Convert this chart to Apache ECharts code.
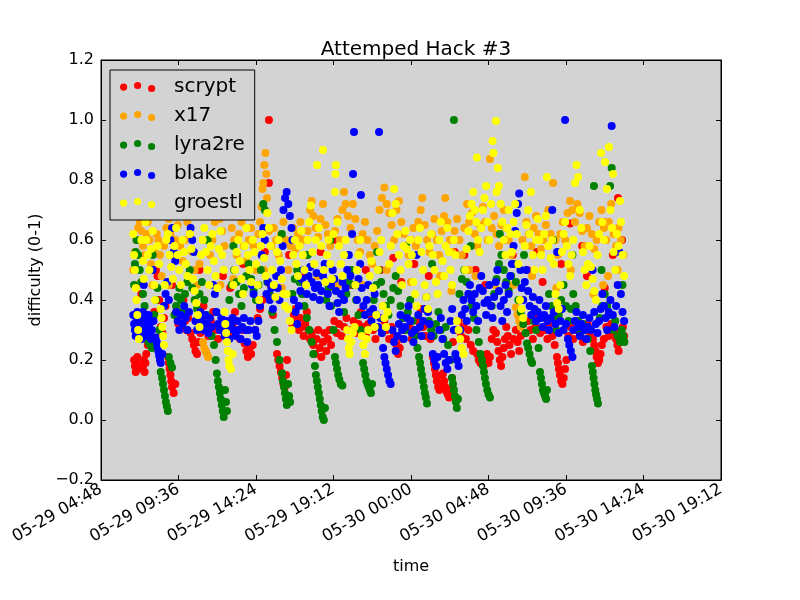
<!DOCTYPE html>
<html>
<head>
<meta charset="utf-8">
<title>Attemped Hack #3</title>
<script src="https://cdn.jsdelivr.net/npm/echarts@6/dist/echarts.min.js"></script>
<style>
  html, body { margin: 0; padding: 0; background: #fff; }
  #chart { width: 800px; height: 600px; }
</style>
</head>
<body>
<div id="chart"></div>
<script>
// Points are [hours since 05-29 00:00, difficulty]
const scrypt = [
  [6.85,0.2],[6.9,0.18],[6.95,0.16],[7.0,0.19],[7.05,0.21],[7.1,0.17],[7.4,0.18],[7.45,0.2],[7.5,0.16],[7.55,0.19],[7.6,0.22],[7.7,0.25],[7.8,0.3],[7.9,0.27],
  [8.0,0.33],[8.1,0.36],[8.2,0.5],[8.3,0.48],[8.4,0.4],[8.5,0.31],[8.6,0.29],[8.7,0.34],[8.8,0.38],
  [8.95,0.21],[9.0,0.19],[9.05,0.17],[9.1,0.15],[9.15,0.13],[9.2,0.11],[9.3,0.09],[9.4,0.12],
  [9.5,0.35],[9.6,0.32],[9.7,0.31],[9.8,0.36],[9.9,0.4],[10.0,0.33],[10.1,0.3],[10.2,0.34],
  [10.35,0.29],[10.45,0.27],[10.55,0.25],[10.65,0.23],[10.75,0.22],[10.85,0.26],[10.95,0.29],
  [11.05,0.33],[11.15,0.38],[11.3,0.31],[11.45,0.28],[11.6,0.33],[11.75,0.36],[11.9,0.3],[12.05,0.27],[12.2,0.32],[12.35,0.48],[12.5,0.3],
  [12.65,0.33],[12.8,0.29],[12.95,0.32],[13.1,0.36],[13.25,0.3],[13.4,0.27],[13.55,0.3],[13.7,0.255],[13.8,0.23],[13.9,0.21],[14.0,0.24],[14.1,0.22],[14.2,0.25],[14.35,0.3],[14.5,0.34],[14.65,0.37],
  [14.8,0.4],[14.95,0.56],[15.2,1.0],[15.2,0.79],[15.3,0.45],[15.45,0.35],
  [15.7,0.22],[15.78,0.2],[15.86,0.18],[15.94,0.16],[16.02,0.14],[16.1,0.12],[16.18,0.11],[16.26,0.15],[16.32,0.2],
  [16.45,0.55],[16.65,0.32],[16.75,0.35],[16.85,0.37],[16.95,0.33],[17.05,0.3],[17.15,0.34],[17.25,0.31],[17.35,0.28],[17.45,0.32],[17.55,0.36],[17.65,0.3],[17.75,0.27],[17.85,0.29],
  [17.95,0.25],[18.05,0.22],[18.15,0.27],[18.25,0.3],[18.35,0.24],[18.45,0.21],[18.55,0.26],[18.65,0.29],[18.75,0.23],[18.85,0.27],[18.95,0.3],[19.05,0.25],
  [19.2,0.6],[19.25,0.33],[19.4,0.29],[19.55,0.32],[19.7,0.28],[19.85,0.31],[20.0,0.34],[20.15,0.3],[20.3,0.45],[20.45,0.33],[20.6,0.29],[20.75,0.32],[20.9,0.36],
  [21.05,0.31],[21.2,0.28],[21.35,0.32],[21.5,0.35],[21.65,0.3],[21.8,0.27],[21.95,0.31],[22.1,0.5],[22.2,0.29],
  [22.35,0.33],[22.5,0.3],[22.65,0.27],[22.8,0.31],[22.95,0.28],[23.1,0.25],[23.2,0.22],[23.3,0.24],[23.45,0.27],[23.6,0.3],[23.75,0.34],[23.9,0.31],[24.05,0.27],[24.2,0.52],
  [24.3,0.3],[24.45,0.33],[24.6,0.37],[24.75,0.31],[24.9,0.28],[25.05,0.32],[25.2,0.27],
  [25.36,0.21],[25.42,0.19],[25.48,0.17],[25.54,0.15],[25.6,0.13],[25.68,0.11],[25.76,0.1],[25.84,0.12],[25.92,0.15],
  [25.98,0.155],[26.05,0.13],[26.12,0.11],[26.2,0.095],[26.28,0.085],[26.36,0.075],[26.45,0.1],[26.54,0.14],
  [26.6,0.26],[26.7,0.56],[26.8,0.3],[26.95,0.33],[27.1,0.28],[27.25,0.31],[27.4,0.27],[27.55,0.3],[27.7,0.25],[27.85,0.23],
  [28.0,0.5],[28.1,0.22],[28.2,0.2],[28.3,0.19],[28.4,0.21],[28.5,0.18],[28.6,0.2],[28.7,0.22],[28.8,0.19],[28.89,0.21],
  [29.0,0.27],[29.1,0.3],[29.26,0.29],[29.34,0.26],[29.42,0.23],[29.5,0.2],[29.58,0.18],[29.66,0.21],[29.74,0.24],[29.82,0.27],
  [29.9,0.31],[30.0,0.28],[30.1,0.25],[30.2,0.22],[30.3,0.55],[30.35,0.27],[30.5,0.3],[30.6,0.26],[30.7,0.23],[30.8,0.28],
  [30.95,0.32],[31.1,0.29],[31.25,0.33],[31.4,0.3],[31.55,0.27],[31.7,0.31],[31.85,0.34],[32.0,0.29],[32.15,0.46],[32.3,0.3],[32.45,0.27],[32.6,0.32],[32.75,0.28],[32.9,0.25],
  [33.04,0.21],[33.1,0.19],[33.16,0.17],[33.22,0.15],[33.3,0.13],[33.38,0.12],[33.46,0.14],[33.54,0.17],[33.62,0.2],
  [33.75,0.28],[33.85,0.655],[33.9,0.31],[34.05,0.27],[34.2,0.3],[34.35,0.33],[34.5,0.29],[34.6,0.58],[34.65,0.26],[34.8,0.3],[34.95,0.32],[35.1,0.28],
  [35.27,0.27],[35.35,0.25],[35.43,0.23],[35.5,0.21],[35.58,0.19],[35.66,0.2],[35.74,0.22],[35.82,0.25],[35.9,0.66],[35.95,0.27],
  [36.1,0.31],[36.25,0.28],[36.4,0.32],[36.55,0.29],[36.63,0.3],[36.7,0.27],[36.78,0.25],[36.82,0.74],[36.86,0.23],[36.95,0.26],[37.02,0.29],[37.07,0.6],[37.12,0.31],[37.2,0.28],
  // scattered higher values inside the main band
  [7.3,0.42],[9.2,0.45],[10.9,0.5],[12.8,0.44],[13.6,0.52],[17.2,0.48],[18.4,0.56],[19.9,0.42],[21.2,0.5],[22.9,0.54],[23.4,0.46],
  [25.1,0.48],[27.3,0.55],[28.6,0.45],[29.8,0.6],[31.2,0.5],[31.8,0.56],[33.3,0.52],[34.9,0.48],[36.0,0.44],[36.5,0.55]
];

const x17 = [
  [6.8,0.5],[6.9,0.56],[7.0,0.6],[7.1,0.64],[7.2,0.66],[7.3,0.63],[7.4,0.58],[7.5,0.55],[7.6,0.62],[7.7,0.66],[7.8,0.6],[7.9,0.52],[8.0,0.45],[8.1,0.57],
  [8.25,0.62],[8.35,0.6],[8.45,0.55],[8.55,0.48],[8.7,0.58],[8.85,0.64],[9.0,0.67],[9.0,0.45],[9.1,0.62],[9.25,0.55],[9.4,0.6],[9.55,0.65],
  [9.7,0.58],[9.85,0.53],[10.0,0.6],[10.15,0.66],[10.3,0.62],[10.45,0.56],[10.6,0.5],[10.75,0.45],[10.9,0.52],
  [11.05,0.32],[11.12,0.26],[11.2,0.24],[11.28,0.23],[11.36,0.22],[11.43,0.21],
  [11.55,0.55],[11.7,0.6],[11.85,0.66],[12.0,0.7],[12.15,0.67],[12.3,0.63],[12.45,0.58],[12.6,0.68],[12.75,0.7],[12.9,0.64],[13.0,0.47],[13.05,0.6],[13.2,0.55],
  [13.35,0.62],[13.5,0.66],[13.65,0.58],[13.8,0.53],[13.95,0.6],[14.1,0.64],[14.25,0.58],[14.4,0.5],[14.55,0.62],[14.65,0.66],
  [14.75,0.71],[14.8,0.77],[14.85,0.79],[14.92,0.85],[14.98,0.89],[15.04,0.82],[15.08,0.74],
  [15.2,0.63],[15.35,0.58],[15.5,0.64],[15.65,0.6],[15.8,0.55],[15.95,0.62],[16.0,0.44],[16.1,0.66],[16.25,0.6],[16.4,0.5],[16.55,0.58],[16.7,0.64],[16.85,0.57],[17.0,0.62],
  [17.15,0.66],[17.3,0.6],[17.45,0.55],[17.6,0.63],[17.75,0.7],[17.85,0.73],[17.95,0.68],[18.1,0.64],[18.2,0.48],[18.25,0.61],[18.4,0.67],[18.55,0.72],[18.7,0.65],[18.85,0.62],
  [19.0,0.58],[19.15,0.5],[19.3,0.63],[19.45,0.67],[19.6,0.6],[19.75,0.7],[19.85,0.76],[19.95,0.72],
  [20.1,0.68],[20.25,0.64],[20.4,0.72],[20.55,0.67],[20.7,0.6],[20.85,0.56],[21.0,0.62],[21.0,0.45],[21.15,0.66],[21.3,0.6],[21.45,0.55],[21.6,0.52],[21.75,0.58],[21.9,0.63],
  [22.05,0.7],[22.2,0.74],[22.35,0.775],[22.5,0.72],[22.65,0.69],[22.8,0.65],[22.95,0.6],[23.1,0.7],[23.25,0.73],[23.4,0.66],[23.55,0.62],[23.7,0.58],
  [23.85,0.55],[24.0,0.6],[24.0,0.46],[24.15,0.64],[24.3,0.58],[24.45,0.66],[24.6,0.7],[24.7,0.74],[24.85,0.65],[25.0,0.6],[25.15,0.56],[25.3,0.62],[25.45,0.67],[25.6,0.6],[25.75,0.55],
  [25.9,0.63],[26.05,0.68],[26.12,0.74],[26.25,0.66],[26.4,0.6],[26.5,0.43],[26.55,0.56],[26.7,0.63],[26.85,0.67],[27.0,0.6],[27.15,0.55],[27.3,0.64],[27.47,0.72],[27.6,0.66],
  [27.78,0.69],[27.95,0.62],[28.0,0.48],[28.1,0.58],[28.25,0.65],
  [28.46,0.71],[28.6,0.66],[28.75,0.6],[28.89,0.87],[29.0,0.64],[29.15,0.68],[29.3,0.62],[29.45,0.58],[29.6,0.65],[29.75,0.7],[29.9,0.64],[30.05,0.6],[30.2,0.55],[30.35,0.45],
  [30.5,0.375],[30.6,0.35],[30.7,0.33],[30.8,0.31],
  [30.9,0.6],[31.05,0.81],[31.15,0.66],[31.3,0.62],[31.45,0.58],[31.6,0.64],[31.75,0.68],[31.9,0.62],[32.05,0.57],[32.2,0.6],[32.35,0.65],[32.5,0.7],[32.65,0.62],[32.8,0.79],
  [32.95,0.6],[33.0,0.44],[33.1,0.55],[33.25,0.62],[33.4,0.66],
  [33.55,0.6],[33.7,0.69],[33.85,0.73],[34.0,0.7],[34.15,0.66],[34.3,0.72],[34.45,0.69],[34.6,0.63],[34.75,0.58],[34.9,0.64],[35.05,0.68],[35.2,0.62],[35.3,0.42],[35.35,0.57],
  [35.5,0.6],[35.65,0.66],[35.8,0.7],[35.95,0.64],[36.1,0.6],[36.2,0.48],[36.25,0.66],[36.4,0.72],[36.55,0.62],[36.7,0.58],[36.85,0.64],[37.0,0.6],[37.15,0.55],
  // lower orange points mixed into the band
  [7.0,0.45],[10.0,0.42],[12.2,0.45],[14.9,0.5],[17.4,0.42],[19.5,0.45],[22.5,0.5],[25.8,0.48],[27.6,0.5],[29.2,0.45],[31.5,0.48],[33.9,0.5],[35.9,0.45],[36.8,0.5]
];

const lyra2re = [
  [6.85,0.45],[6.9,0.52],[6.95,0.56],[7.0,0.6],[7.1,0.55],[7.2,0.5],[7.3,0.46],[7.4,0.42],[7.5,0.38],[7.55,0.29],[7.65,0.27],[7.75,0.26],[7.85,0.25],[7.95,0.24],[8.1,0.35],[8.2,0.4],[8.3,0.44],[8.4,0.3],
  [8.5,0.16],[8.58,0.14],[8.64,0.12],[8.7,0.1],[8.76,0.08],[8.82,0.06],[8.88,0.045],[8.94,0.03],[9.0,0.21],[9.1,0.19],[9.2,0.175],
  [9.35,0.35],[9.45,0.38],[9.55,0.41],[9.65,0.44],[9.75,0.4],[9.85,0.36],[10.0,0.42],[10.15,0.46],[10.3,0.5],[10.45,0.44],[10.6,0.4],[10.75,0.37],[10.9,0.42],[11.05,0.46],
  [11.2,0.4],[11.35,0.35],[11.5,0.31],[11.65,0.28],[11.8,0.25],[11.9,0.2],
  [11.98,0.155],[12.04,0.13],[12.1,0.11],[12.16,0.09],[12.22,0.07],[12.28,0.05],[12.34,0.03],[12.4,0.01],[12.48,0.1],[12.54,0.06],[12.6,0.03],
  [12.75,0.4],[12.9,0.45],[13.05,0.5],[13.2,0.46],[13.35,0.42],[13.5,0.38],[13.65,0.44],[13.8,0.48],[13.95,0.52],[14.1,0.47],[14.25,0.43],[14.4,0.4],[14.55,0.45],[14.7,0.5],
  [14.85,0.72],[14.95,0.7],[15.1,0.46],[15.25,0.42],[15.4,0.36],[15.55,0.3],[15.7,0.26],[15.85,0.2],
  [16.01,0.155],[16.07,0.13],[16.13,0.11],[16.19,0.09],[16.25,0.07],[16.31,0.05],[16.39,0.12],[16.45,0.08],[16.51,0.06],
  [16.65,0.42],[16.8,0.47],[16.95,0.5],[17.1,0.46],[17.25,0.42],[17.4,0.38],[17.55,0.34],[17.7,0.3],[17.85,0.26],[17.95,0.22],
  [18.05,0.18],[18.11,0.15],[18.17,0.13],[18.23,0.11],[18.29,0.09],[18.35,0.07],[18.41,0.05],[18.47,0.03],[18.53,0.01],[18.6,0.0],[18.67,0.04],
  [18.75,0.4],[18.9,0.44],[19.05,0.38],[19.2,0.3],
  [19.29,0.21],[19.35,0.19],[19.42,0.17],[19.49,0.15],[19.56,0.135],[19.65,0.12],[19.75,0.115],
  [19.85,0.36],[20.0,0.42],[20.15,0.46],[20.3,0.5],[20.45,0.45],[20.6,0.4],[20.75,0.35],[20.9,0.3],
  [21.03,0.19],[21.1,0.17],[21.17,0.15],[21.24,0.13],[21.31,0.12],[21.38,0.11],[21.45,0.1],[21.52,0.09],[21.59,0.12],
  [21.7,0.4],[21.85,0.45],[22.0,0.5],[22.15,0.46],[22.3,0.42],[22.45,0.38],[22.6,0.35],[22.75,0.4],[22.9,0.44],[23.05,0.48],[23.2,0.43],[23.35,0.38],[23.5,0.34],[23.65,0.3],
  [23.8,0.36],[23.95,0.4],[24.1,0.33],[24.25,0.28],[24.4,0.24],[24.5,0.21],
  [24.56,0.19],[24.62,0.17],[24.68,0.15],[24.74,0.13],[24.8,0.11],[24.86,0.09],[24.92,0.075],[24.99,0.055],
  [25.1,0.33],[25.25,0.3],[25.4,0.28],[25.55,0.32],[25.7,0.36],[25.85,0.3],[26.0,0.27],[26.15,0.31],[26.3,0.25],[26.45,0.2],
  [26.54,0.14],[26.6,0.12],[26.66,1.0],[26.66,0.1],[26.72,0.08],[26.78,0.06],[26.84,0.04],[26.91,0.07],
  [27.0,0.42],[27.15,0.47],[27.3,0.5],[27.45,0.46],[27.6,0.42],[27.75,0.38],[27.9,0.34],[28.05,0.3],[28.2,0.26],[28.3,0.22],
  [28.4,0.2],[28.46,0.18],[28.52,0.16],[28.58,0.14],[28.64,0.12],[28.72,0.1],[28.8,0.085],[28.89,0.075],
  [29.0,0.38],[29.15,0.42],[29.3,0.47],[29.45,0.52],[29.6,0.55],[29.75,0.5],[29.9,0.46],[30.05,0.43],[30.2,0.48],[30.35,0.52],[30.5,0.46],[30.65,0.4],[30.8,0.36],[30.95,0.32],[31.1,0.29],
  [31.18,0.255],[31.26,0.24],[31.34,0.22],[31.42,0.2],[31.5,0.19],[31.6,0.33],[31.75,0.3],[31.9,0.24],
  [31.99,0.16],[32.05,0.14],[32.11,0.12],[32.17,0.1],[32.23,0.09],[32.3,0.08],[32.37,0.07],[32.42,0.1],
  [32.55,0.42],[32.7,0.38],[32.85,0.34],[33.0,0.3],[33.15,0.35],[33.3,0.4],[33.45,0.45],[33.6,0.38],[33.75,0.33],[33.9,0.37],[34.05,0.42],[34.2,0.38],[34.35,0.33],[34.5,0.29],
  [34.65,0.32],[34.8,0.3],[34.95,0.27],[35.1,0.23],
  [35.21,0.18],[35.26,0.16],[35.31,0.14],[35.33,0.78],[35.36,0.12],[35.41,0.1],[35.46,0.085],[35.52,0.07],[35.58,0.055],
  [35.7,0.34],[35.85,0.38],[36.0,0.42],[36.15,0.38],[36.3,0.35],[36.33,0.78],[36.43,0.84],[36.5,0.3],[36.65,0.33],[36.8,0.28],[36.95,0.26],[37.05,0.3],[37.15,0.28],[37.22,0.26],
  // scattered higher values inside the main band
  [8.0,0.55],[11.4,0.6],[13.0,0.58],[16.0,0.62],[17.6,0.55],[19.0,0.6],[21.9,0.56],[23.7,0.58],[25.3,0.52],[27.7,0.58],[29.5,0.62],[31.0,0.55],[32.8,0.6],[34.0,0.55],[35.8,0.5],[37.1,0.45]
];

const blake = [
  [6.8,0.35],[6.85,0.32],[6.9,0.3],[6.95,0.28],[7.0,0.33],[7.05,0.36],[7.1,0.31],[7.15,0.29],[7.2,0.34],[7.25,0.3],[7.3,0.27],[7.35,0.32],[7.4,0.36],[7.45,0.45],
  [7.5,0.34],[7.55,0.31],[7.6,0.28],[7.65,0.33],[7.7,0.3],[7.75,0.35],[7.8,0.32],[7.85,0.29],[7.9,0.27],[7.95,0.3],[8.0,0.5],[8.05,0.33],
  [8.2,0.275],[8.25,0.26],[8.3,0.245],[8.35,0.23],[8.4,0.215],[8.45,0.2],[8.5,0.19],[8.6,0.22],[8.7,0.38],
  [8.8,0.42],[8.9,0.46],[9.0,0.4],[9.1,0.6],[9.2,0.64],[9.3,0.56],[9.4,0.53],[9.45,0.36],
  [9.55,0.33],[9.65,0.3],[9.75,0.35],[9.85,0.32],[9.95,0.38],[10.05,0.34],[10.15,0.3],
  [10.25,0.36],[10.35,0.64],[10.45,0.6],[10.55,0.56],[10.65,0.33],[10.75,0.3],[10.85,0.34],[10.95,0.36],
  [11.05,0.33],[11.15,0.3],[11.25,0.35],[11.35,0.32],[11.45,0.29],[11.55,0.34],[11.65,0.31],[11.75,0.45],
  [11.85,0.42],[11.95,0.36],[12.05,0.32],[12.15,0.3],[12.25,0.34],[12.35,0.31],[12.45,0.28],[12.55,0.33],
  [12.65,0.3],[12.75,0.27],[12.85,0.32],[12.95,0.34],[13.05,0.3],[13.15,0.28],[13.25,0.33],[13.35,0.3],
  [13.45,0.27],[13.55,0.31],[13.65,0.34],[13.75,0.3],[13.85,0.26],[13.95,0.3],[14.05,0.33],[14.15,0.45],
  [14.25,0.42],[14.35,0.3],[14.45,0.28],[14.55,0.33],[14.65,0.38],[14.75,0.55],[14.85,0.64],[14.95,0.6],
  [15.05,0.42],[15.15,0.46],[15.25,0.4],[15.35,0.44],[15.45,0.37],[15.55,0.41],[15.65,0.48],[15.75,0.44],
  [15.85,0.4],[15.95,0.5],[16.05,0.58],[16.1,0.7],[16.2,0.74],[16.3,0.76],[16.4,0.72],[16.5,0.68],[16.6,0.64],[16.65,0.6],
  [16.75,0.4],[16.85,0.36],[16.95,0.32],[17.05,0.38],[17.15,0.43],[17.25,0.47],[17.35,0.5],[17.45,0.45],
  [17.55,0.42],[17.65,0.48],[17.75,0.51],[17.85,0.46],[17.95,0.41],[18.05,0.44],[18.15,0.49],[18.25,0.45],
  [18.35,0.4],[18.45,0.43],[18.55,0.48],[18.65,0.52],[18.75,0.46],[18.85,0.42],[18.95,0.38],[19.05,0.45],
  [19.15,0.5],[19.25,0.47],[19.35,0.43],[19.45,0.39],[19.55,0.36],[19.65,0.42],[19.75,0.46],[19.85,0.4],
  [19.95,0.44],[20.05,0.5],[20.15,0.55],[20.25,0.48],[20.35,0.62],[20.41,0.82],[20.47,0.96],[20.55,0.45],[20.65,0.4],
  [20.75,0.47],[20.85,0.52],[20.9,0.75],[20.95,0.44],[21.05,0.38],[21.15,0.35],[21.25,0.4],[21.35,0.45],[21.45,0.36],
  [21.55,0.33],[21.65,0.37],[21.75,0.42],[21.85,0.35],[21.95,0.31],[22.02,0.96],[22.1,0.34],[22.2,0.29],
  [22.27,0.24],[22.35,0.21],[22.42,0.19],[22.5,0.17],[22.58,0.15],[22.66,0.13],[22.74,0.12],
  [22.85,0.3],[22.95,0.26],[23.05,0.23],[23.15,0.28],[23.25,0.32],[23.35,0.35],[23.45,0.3],[23.55,0.27],
  [23.65,0.31],[23.75,0.34],[23.85,0.38],[23.95,0.33],[24.05,0.29],[24.15,0.26],[24.25,0.3],[24.35,0.55],
  [24.45,0.35],[24.55,0.31],[24.65,0.28],[24.75,0.33],[24.85,0.37],[24.95,0.41],[25.05,0.36],[25.15,0.32],
  [25.25,0.28],[25.35,0.22],[25.45,0.2],[25.55,0.18],[25.65,0.21],[25.75,0.3],[25.85,0.34],[25.95,0.27],
  [26.05,0.22],[26.15,0.19],[26.25,0.17],[26.35,0.2],[26.45,0.33],[26.55,0.37],[26.65,0.3],[26.75,0.22],
  [26.85,0.2],[26.95,0.18],[27.05,0.3],[27.15,0.35],[27.25,0.4],[27.35,0.37],[27.45,0.33],[27.55,0.42],
  [27.65,0.45],[27.75,0.4],[27.85,0.36],[27.95,0.42],[28.05,0.38],[28.15,0.33],[28.25,0.44],[28.35,0.48],
  [28.45,0.43],[28.55,0.39],[28.65,0.35],[28.75,0.4],[28.85,0.45],[28.95,0.38],[29.05,0.34],[29.15,0.41],
  [29.25,0.46],[29.35,0.5],[29.45,0.43],[29.55,0.38],[29.65,0.33],[29.75,0.4],[29.85,0.45],[29.95,0.36],
  [30.05,0.42],[30.15,0.48],[30.25,0.52],[30.35,0.58],[30.45,0.63],[30.55,0.69],[30.63,0.72],[30.7,0.755],[30.78,0.5],
  [30.85,0.44],[30.95,0.4],[31.05,0.46],[31.15,0.5],[31.25,0.43],[31.35,0.38],[31.45,0.35],[31.55,0.41],
  [31.65,0.37],[31.75,0.33],[31.85,0.36],[31.95,0.4],[32.05,0.34],[32.15,0.31],[32.25,0.35],[32.35,0.38],
  [32.45,0.33],[32.55,0.3],[32.65,0.34],[32.75,0.7],[32.85,0.36],[32.95,0.32],[33.05,0.56],[33.15,0.29],
  [33.25,0.33],[33.35,0.37],[33.45,0.3],[33.54,1.0],[33.6,0.32],[33.72,0.27],[33.8,0.25],[33.9,0.23],[34.0,0.21],
  [34.05,0.3],[34.15,0.33],[34.25,0.36],[34.35,0.31],[34.45,0.28],[34.55,0.32],[34.65,0.35],[34.75,0.3],
  [34.85,0.27],[34.95,0.31],[35.05,0.34],[35.15,0.3],[35.25,0.5],[35.35,0.36],[35.45,0.32],[35.55,0.29],
  [35.65,0.33],[35.75,0.37],[35.85,0.42],[35.95,0.38],[36.05,0.34],[36.15,0.3],[36.25,0.36],[36.35,0.4],
  [36.43,0.98],[36.5,0.35],[36.6,0.31],[36.7,0.38],[36.8,0.45],[36.9,0.56],[37.0,0.42],[37.1,0.36],[37.2,0.33]
];

const groestl = [
  [6.8,0.62],[6.85,0.55],[6.9,0.5],[6.95,0.44],[7.0,0.4],[7.05,0.35],[7.1,0.3],[7.15,0.27],[7.3,0.6],[7.4,0.53],[7.45,0.47],
  [7.55,0.66],[7.6,0.6],[7.7,0.55],[7.8,0.5],[7.9,0.57],[8.0,0.63],[8.1,0.45],[8.15,0.4],
  [8.3,0.58],[8.4,0.52],[8.5,0.37],[8.55,0.34],[8.6,0.31],[8.65,0.28],[8.7,0.25],[8.75,0.45],
  [8.85,0.6],[8.95,0.62],[9.05,0.55],[9.15,0.51],[9.25,0.47],[9.35,0.58],[9.45,0.64],
  [9.55,0.55],[9.65,0.5],[9.75,0.45],[9.85,0.6],[9.95,0.56],[10.05,0.52],[10.15,0.48],
  [10.3,0.62],[10.4,0.57],[10.5,0.47],[10.6,0.43],[10.7,0.39],[10.8,0.35],[10.9,0.31],[11.0,0.55],
  [11.1,0.6],[11.2,0.64],[11.3,0.56],[11.4,0.5],[11.5,0.45],[11.6,0.58],[11.7,0.62],[11.8,0.53],
  [11.9,0.48],[12.0,0.44],[12.1,0.57],[12.2,0.63],[12.3,0.55],[12.4,0.5],[12.45,0.36],
  [12.5,0.32],[12.55,0.29],[12.6,0.26],[12.65,0.23],[12.7,0.2],[12.75,0.18],[12.85,0.17],[12.95,0.22],
  [13.0,0.45],[13.1,0.5],[13.2,0.56],[13.3,0.6],[13.4,0.53],[13.5,0.47],[13.6,0.42],[13.7,0.58],[13.8,0.64],
  [13.9,0.55],[14.0,0.5],[14.1,0.46],[14.2,0.6],[14.3,0.56],[14.4,0.52],[14.5,0.45],[14.6,0.4],
  [14.7,0.58],[14.8,0.62],[14.9,0.54],[15.0,0.48],[15.1,0.69],[15.2,0.64],[15.3,0.58],[15.4,0.5],
  [15.5,0.45],[15.6,0.41],[15.7,0.56],[15.8,0.6],[15.9,0.53],[16.0,0.47],[16.1,0.42],[16.2,0.38],
  [16.3,0.42],[16.4,0.37],[16.5,0.33],[16.6,0.3],[16.7,0.55],[16.8,0.6],[16.9,0.52],[17.0,0.48],
  [17.1,0.58],[17.2,0.63],[17.3,0.55],[17.4,0.5],[17.5,0.45],[17.6,0.6],[17.7,0.66],[17.8,0.715],
  [17.9,0.56],[18.0,0.52],[18.1,0.6],[18.18,0.85],[18.3,0.64],[18.45,0.58],[18.55,0.9],[18.6,0.5],
  [18.7,0.46],[18.8,0.55],[18.9,0.6],[19.0,0.52],[19.1,0.47],[19.2,0.62],[19.29,0.76],[19.32,0.82],[19.35,0.85],
  [19.45,0.66],[19.55,0.58],[19.65,0.52],[19.75,0.48],[19.85,0.55],[19.95,0.6],
  [20.05,0.3],[20.1,0.27],[20.15,0.24],[20.2,0.22],[20.3,0.26],[20.4,0.29],[20.5,0.31],[20.55,0.45],[20.65,0.5],[20.75,0.55],[20.85,0.6],
  [20.95,0.28],[21.05,0.25],[21.15,0.22],[21.25,0.27],[21.35,0.3],[21.45,0.48],[21.55,0.53],[21.65,0.44],[21.75,0.31],[21.85,0.35],
  [21.95,0.5],[22.05,0.56],[22.15,0.6],[22.25,0.38],[22.35,0.34],[22.45,0.31],[22.55,0.36],[22.65,0.52],[22.75,0.58],
  [22.85,0.69],[22.95,0.77],[23.05,0.72],[23.15,0.62],[23.25,0.55],[23.35,0.5],[23.45,0.45],[23.55,0.58],
  [23.65,0.63],[23.75,0.57],[23.85,0.52],[23.95,0.6],[24.05,0.55],[24.15,0.46],[24.25,0.42],[24.35,0.38],
  [24.45,0.6],[24.55,0.64],[24.65,0.56],[24.75,0.5],[24.85,0.45],[24.95,0.41],[25.05,0.37],[25.15,0.58],
  [25.25,0.62],[25.35,0.55],[25.45,0.5],[25.55,0.46],[25.65,0.42],[25.75,0.6],[25.85,0.66],[25.95,0.53],
  [26.05,0.48],[26.15,0.58],[26.25,0.64],[26.35,0.56],[26.45,0.5],[26.55,0.45],[26.65,0.6],[26.75,0.55],
  [26.85,0.33],[26.95,0.3],[27.05,0.27],[27.15,0.24],[27.25,0.22],[27.35,0.5],[27.45,0.57],[27.55,0.63],
  [27.65,0.68],[27.75,0.72],[27.85,0.76],[27.95,0.7],[28.05,0.66],[28.08,0.875],[28.15,0.6],[28.25,0.56],[28.35,0.64],
  [28.45,0.7],[28.55,0.74],[28.65,0.78],[28.75,0.66],[28.85,0.6],[28.95,0.72],[29.05,0.93],[29.1,0.89],[29.26,0.997],[29.3,0.76],[29.38,0.84],
  [29.45,0.78],[29.55,0.72],[29.65,0.66],[29.75,0.6],[29.85,0.55],[29.95,0.64],[30.05,0.7],[30.15,0.62],
  [30.25,0.56],[30.35,0.66],[30.45,0.72],[30.55,0.62],[30.65,0.52],[30.75,0.4],[30.85,0.37],[30.95,0.34],
  [31.05,0.58],[31.15,0.65],[31.25,0.7],[31.35,0.62],[31.43,0.76],[31.55,0.55],[31.65,0.5],[31.75,0.6],
  [31.85,0.67],[31.95,0.6],[32.05,0.55],[32.15,0.5],[32.25,0.62],[32.35,0.68],[32.42,0.81],[32.5,0.58],
  [32.65,0.54],[32.75,0.6],[32.85,0.52],[32.95,0.42],[33.05,0.39],[33.15,0.37],[33.25,0.45],[33.35,0.56],
  [33.45,0.62],[33.55,0.66],[33.65,0.58],[33.75,0.52],[33.85,0.48],[33.95,0.55],[34.05,0.6],[34.16,0.79],
  [34.25,0.85],[34.35,0.81],[34.45,0.7],[34.55,0.64],[34.65,0.56],[34.75,0.5],[34.85,0.45],[34.95,0.52],
  [35.05,0.58],[35.15,0.51],[35.25,0.47],[35.35,0.43],[35.45,0.4],[35.55,0.55],[35.65,0.62],[35.77,0.89],
  [35.85,0.66],[35.95,0.6],[36.02,0.86],[36.14,0.77],[36.26,0.91],[36.35,0.7],[36.45,0.64],[36.51,0.82],[36.55,0.56],
  [36.65,0.5],[36.75,0.62],[36.85,0.58],[36.94,0.73],[37.0,0.66],[37.1,0.55],[37.2,0.48]
];

// x axis: every 4h48m from 05-29 04:48 to 05-30 19:12
const xMin = 4.8, xMax = 43.2, xStep = 4.8;

function pad(n) { return (n < 10 ? '0' : '') + n; }
function timeLabel(h) {
  var m = Math.round(h * 60);
  var day = 29 + Math.floor(m / 1440);
  var hh = Math.floor((m % 1440) / 60);
  return '05-' + day + ' ' + pad(hh) + ':' + pad(m % 60);
}

// three dots like the matplotlib scatter legend marker,
// the tiny speck at x=49 only widens the icon box so the text sits further right
const dotsIcon = 'path://M0 5.2a3.6 3.6 0 1 0 7.2 0a3.6 3.6 0 1 0 -7.2 0Z' +
  'M14 3.6a3.6 3.6 0 1 0 7.2 0a3.6 3.6 0 1 0 -7.2 0Z' +
  'M28 6.6a3.6 3.6 0 1 0 7.2 0a3.6 3.6 0 1 0 -7.2 0Z' +
  'M49 0L49.01 0L49 0.01Z';

const font = 'DejaVu Sans';

var chart = echarts.init(document.getElementById('chart'));

function scatter(name, color, data) {
  return {
    name: name,
    type: 'scatter',
    data: data,
    symbolSize: 8,
    itemStyle: { color: color, opacity: 1 },
    emphasis: { disabled: true }
  };
}

var tickStyle = { inside: true, length: 5, lineStyle: { color: '#000' } };

chart.setOption({
  animation: false,
  backgroundColor: '#fff',
  textStyle: { fontFamily: font },
  title: {
    text: 'Attemped Hack #3',
    left: 411,
    textAlign: 'center',
    top: 35,
    textStyle: { fontFamily: font, fontSize: 20, fontWeight: 'normal', color: '#000' }
  },
  legend: {
    orient: 'vertical',
    left: 110,
    top: 70,
    padding: [7, 10, 7, 10],
    itemWidth: 49.01,
    itemHeight: 10.2,
    itemGap: 9,
    icon: dotsIcon,
    backgroundColor: '#d3d3d3',
    borderColor: '#000',
    borderWidth: 1,
    textStyle: { fontFamily: font, fontSize: 20, color: '#000', lineHeight: 20 },
    data: ['scrypt', 'x17', 'lyra2re', 'blake', 'groestl']
  },
  grid: {
    left: 101, right: 79, top: 60, bottom: 120,
    show: true,
    backgroundColor: '#d3d3d3',
    borderColor: '#000',
    borderWidth: 1
  },
  xAxis: [{
    type: 'value',
    min: xMin, max: xMax, interval: xStep,
    name: 'time',
    nameLocation: 'middle',
    nameGap: 79,
    nameTextStyle: { fontFamily: font, fontSize: 16, color: '#000' },
    axisLine: { onZero: false, lineStyle: { color: '#000' } },
    axisTick: tickStyle,
    splitLine: { show: false },
    axisLabel: {
      rotate: 30,
      margin: 8,
      fontFamily: font, fontSize: 16.5, color: '#000',
      showMinLabel: true, showMaxLabel: true,
      formatter: timeLabel
    }
  }, {
    type: 'value', position: 'top',
    min: xMin, max: xMax, interval: xStep,
    axisLine: { onZero: false, lineStyle: { color: '#000' } },
    axisTick: tickStyle,
    axisLabel: { show: false },
    splitLine: { show: false }
  }],
  yAxis: [{
    type: 'value',
    min: -0.2, max: 1.2, interval: 0.2,
    name: 'difficulty (0-1)',
    nameLocation: 'middle',
    nameGap: 56,
    nameTextStyle: { fontFamily: font, fontSize: 16, color: '#000' },
    axisLine: { show: true, onZero: false, lineStyle: { color: '#000' } },
    axisTick: tickStyle,
    splitLine: { show: false },
    axisLabel: {
      margin: 7,
      fontFamily: font, fontSize: 16, color: '#000',
      formatter: function (v) { return v.toFixed(1).replace('-', '\u2212'); }
    }
  }, {
    type: 'value', position: 'right',
    min: -0.2, max: 1.2, interval: 0.2,
    axisLine: { show: true, onZero: false, lineStyle: { color: '#000' } },
    axisTick: tickStyle,
    axisLabel: { show: false },
    splitLine: { show: false }
  }],
  series: [
    scatter('scrypt', '#ff0000', scrypt),
    scatter('x17', '#ffa500', x17),
    scatter('lyra2re', '#008000', lyra2re),
    scatter('blake', '#0000ff', blake),
    scatter('groestl', '#ffff00', groestl)
  ]
});
</script>
</body>
</html>
